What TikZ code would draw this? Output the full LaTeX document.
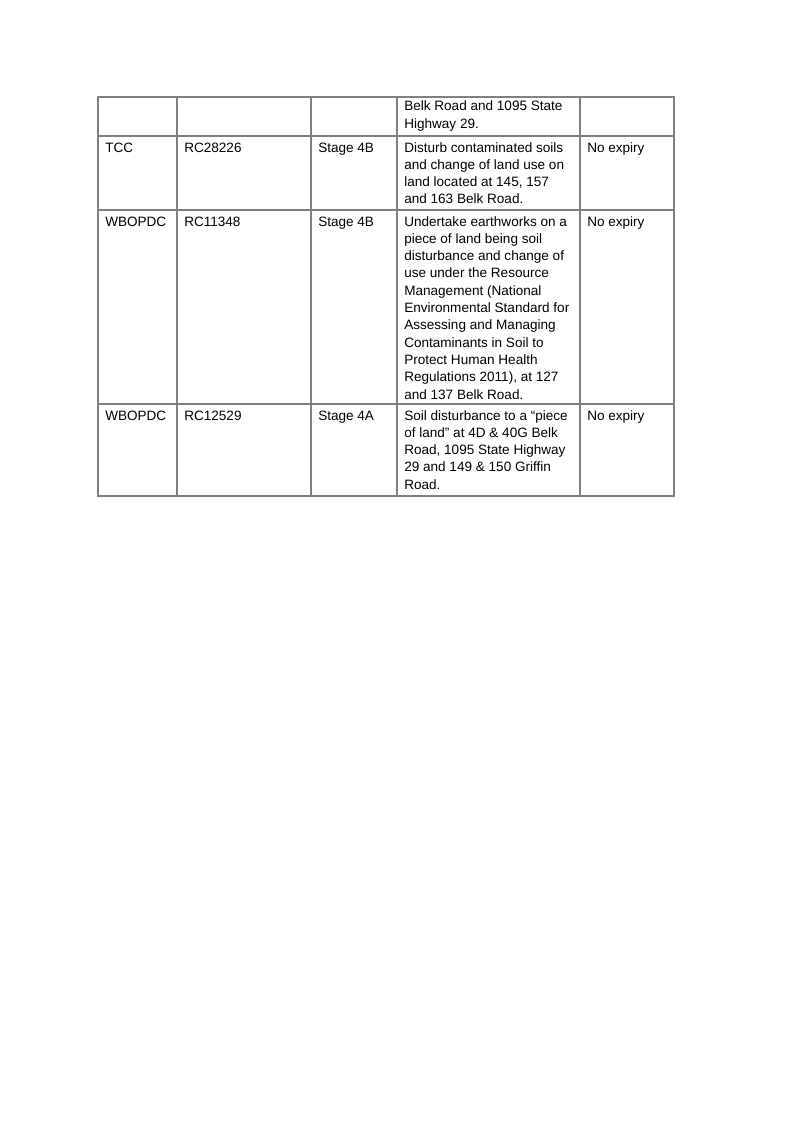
\documentclass[tikz,border=0pt]{standalone}
\usepackage{fontspec}
\setmainfont{Liberation Sans}
\begin{document}
\begin{tikzpicture}[x=0.7376pt,y=-0.7376pt,
  gridline/.style={draw=black!50,line width=0.8pt},
  celltext/.style={anchor=base west,inner sep=0pt,font=\fontsize{10}{12}\selectfont,text=black}]
\useasboundingbox[fill=white] (0,0) rectangle (807,1140);
% grid
\draw[gridline] (98,97) rectangle (674,496);
\foreach \yy in {136,210,404} \draw[gridline] (98,\yy) -- (674,\yy);
\foreach \xx in {177,311,397,580} \draw[gridline] (\xx,97) -- (\xx,496);
% cell macro: x, first baseline, name, lines
\newcommand\cellrows[4]{%
  \foreach \t [count=\i] in {#4} {
    \node[celltext] (#3-\i) at (#1,{#2+(\i-1)*17.3}) {\t};
  }}
% row 1
\cellrows{404}{110.7}{ra}{{Belk Road and 1095 State},{Highway 29.}}
% row 2
\cellrows{105}{152}{rba}{{TCC}}
\cellrows{184}{152}{rbb}{{RC28226}}
\cellrows{318}{152}{rbc}{{Stage 4B}}
\cellrows{404}{152}{rbd}{{Disturb contaminated soils},{and change of land use on},{land located at 145, 157},{and 163 Belk Road.}}
\cellrows{587}{152}{rbe}{{No expiry}}
% row 3
\cellrows{105}{226}{rca}{{WBOPDC}}
\cellrows{184}{226}{rcb}{{RC11348}}
\cellrows{318}{226}{rcc}{{Stage 4B}}
\cellrows{404}{226}{rcd}{{Undertake earthworks on a},{piece of land being soil},{disturbance and change of},{use under the Resource},{Management (National},{Environmental Standard for},{Assessing and Managing},{Contaminants in Soil to},{Protect Human Health},{Regulations 2011), at 127},{and 137 Belk Road.}}
\cellrows{587}{226}{rce}{{No expiry}}
% row 4
\cellrows{105}{420}{rda}{{WBOPDC}}
\cellrows{184}{420}{rdb}{{RC12529}}
\cellrows{318}{420}{rdc}{{Stage 4A}}
\cellrows{404}{420}{rdd}{{Soil disturbance to a “piece},{of land” at 4D \& 40G Belk},{Road, 1095 State Highway},{29 and 149 \& 150 Griffin},{Road.}}
\cellrows{587}{420}{rde}{{No expiry}}
\end{tikzpicture}
\end{document}
